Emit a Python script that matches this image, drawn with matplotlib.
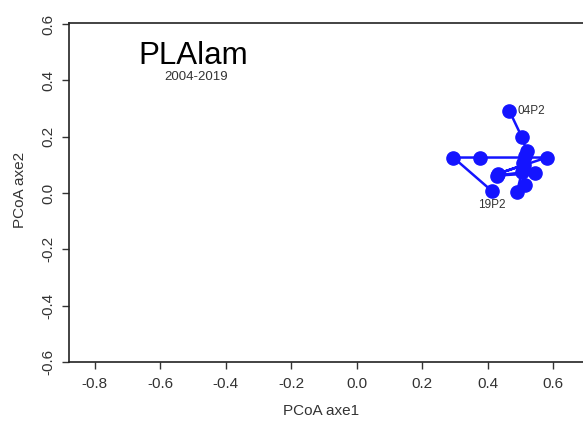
import numpy as np
import matplotlib.pyplot as plt

plt.rcParams['font.family'] = ['Liberation Sans', 'DejaVu Sans']

# trajectory, one point per year (2004 -> 2019)
years = ["04P2", "05P2", "06P2", "07P2", "08P2", "09P2", "10P2", "11P2",
         "12P2", "13P2", "14P2", "15P2", "16P2", "17P2", "18P2", "19P2"]
axe1 = [0.466, 0.504, 0.519, 0.515, 0.509, 0.545, 0.427, 0.504,
        0.489, 0.514, 0.510, 0.430, 0.580, 0.377, 0.295, 0.412]
axe2 = [0.292, 0.199, 0.150, 0.132, 0.108, 0.070, 0.062, 0.073,
        0.002, 0.028, 0.100, 0.068, 0.126, 0.126, 0.126, 0.008]

fig = plt.figure(figsize=(5.83, 4.21), dpi=100)
ax = fig.add_axes([69/583, 0.140, 1 - 69/583 + 0.02, 0.805])

ax.plot(axe1, axe2, '-', color='#1414ff', lw=1.8, zorder=2)
ax.plot(axe1, axe2, 'o', color='#1414ff', ms=9.5, zorder=3)

ax.text(axe1[0] + 0.025, axe2[0], years[0], fontsize=8.5, va='center', ha='left', color='#333333')
ax.text(axe1[-1], axe2[-1] - 0.03, years[-1], fontsize=8.5, va='top', ha='center', color='#333333')

ax.set_xlim(-0.879, 0.691 + 0.02 * 5.83 * 100 / 327.5)
ax.set_ylim(-0.6, 0.603)
ax.set_xticks(np.arange(-0.8, 0.61, 0.2))
ax.set_xticklabels(["-0.8", "-0.6", "-0.4", "-0.2", "0.0", "0.2", "0.4", "0.6"])
ax.set_yticks(np.arange(-0.6, 0.61, 0.2))
ax.set_yticklabels(["-0.6", "-0.4", "-0.2", "0.0", "0.2", "0.4", "0.6"],
                   rotation=90, va='center')
ax.tick_params(labelsize=11, length=5, width=1, colors='#333333', labelcolor='#333333')
ax.tick_params(axis='y', pad=5)
ax.tick_params(axis='x', pad=6)
ax.spines['right'].set_visible(False)
for s in ['left', 'top', 'bottom']:
    ax.spines[s].set_linewidth(1.2)
    ax.spines[s].set_color('#222222')

fig.text(321/583, 1 - 411/421, "PCoA axe1", fontsize=11, ha='center', va='center', color='#333333')
fig.text(20/583, 1 - 190/421, "PCoA axe2", fontsize=11, ha='center', va='center',
         rotation=90, color='#333333')
fig.text(193/583, 1 - 64/421, "PLAlam", fontsize=22.5, ha='center', va='baseline')
fig.text(196/583, 1 - 71.5/421, "2004-2019", fontsize=9.5, ha='center', va='top', color='#333333')

fig.savefig("out.png", dpi=100)
